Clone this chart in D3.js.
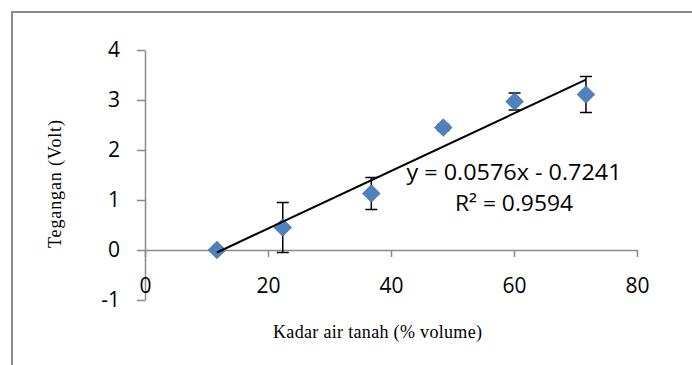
<!DOCTYPE html>
<html>
<head>
<meta charset="utf-8">
<script src="https://cdn.jsdelivr.net/npm/d3@7"></script>
<style>
  body { margin: 0; background: #fff; }
  svg { display: block; }
  .tick text { font-family: "Open Sans", sans-serif; font-size: 21px; fill: #000; }
  .axis-title { font-family: "Liberation Serif", "Times New Roman", serif; font-size: 18px; fill: #000; }
</style>
</head>
<body>
<svg id="chart" width="692" height="365"></svg>
<script>
// --- datos ---
const kadarAir = [11.7, 22.4, 36.8, 48.5, 60.1, 71.7];
const tegangan = [0.0, 0.45, 1.13, 2.45, 2.97, 3.11];
const galat = [0.04, 0.5, 0.32, 0.06, 0.17, 0.36];
const xTicks = [0, 20, 40, 60, 80];
const yTicks = [-1, 0, 1, 2, 3, 4];
const slope = 0.0576, intercept = -0.7241;
const eqText = "y = 0.0576x - 0.7241";
const r2Text = "R² = 0.9594";

const svg = d3.select("#chart");

// marco del gráfico
svg.append("path")
    .attr("d", "M12,366 L12,12 L693,12")
    .attr("fill", "none")
    .attr("stroke", "#8c8c8c")
    .attr("stroke-width", 2);

const x = d3.scaleLinear().domain([0, 80]).range([145, 637]);
const y = d3.scaleLinear().domain([-1, 4]).range([300, 50]);

// eje Y
const yAxis = svg.append("g")
    .attr("transform", `translate(${x(0)},0)`)
    .call(d3.axisLeft(y).tickValues(yTicks).tickFormat(d => String(d))
        .tickSize(8).tickSizeOuter(0).tickPadding(17));

// eje X (en y = 0)
const xAxis = svg.append("g")
    .attr("transform", `translate(0,${y(0)})`)
    .call(d3.axisBottom(x).tickValues(xTicks).tickFormat(d => String(d))
        .tickSize(7).tickSizeOuter(0).tickPadding(21));

[yAxis, xAxis].forEach(g => {
    g.select(".domain").attr("stroke", "#8a8a8a").attr("stroke-width", 1.5);
    g.selectAll(".tick line").attr("stroke", "#8a8a8a").attr("stroke-width", 1.5);
});

// barras de error
const errG = svg.append("g").attr("stroke", "#000").attr("stroke-width", 1.5);
kadarAir.forEach((k, i) => {
    const cx = x(k), top = y(tegangan[i] + galat[i]), bot = y(tegangan[i] - galat[i]);
    errG.append("line").attr("x1", cx).attr("x2", cx).attr("y1", top).attr("y2", bot);
    errG.append("line").attr("x1", cx - 6).attr("x2", cx + 6).attr("y1", top).attr("y2", top);
    errG.append("line").attr("x1", cx - 6).attr("x2", cx + 6).attr("y1", bot).attr("y2", bot);
});

// puntos (rombos)
const diamond = d3.symbol().type(d3.symbolDiamond2).size(200);
svg.append("g").selectAll("path")
    .data(kadarAir)
    .join("path")
    .attr("transform", (d, i) => `translate(${x(d)},${y(tegangan[i])})`)
    .attr("d", diamond)
    .attr("fill", "#4f81bd")
    .attr("stroke", "#3a6290")
    .attr("stroke-width", 0.6);

// línea de tendencia
const x0 = d3.min(kadarAir), x1 = d3.max(kadarAir);
svg.append("line")
    .attr("x1", x(x0)).attr("y1", y(slope * x0 + intercept))
    .attr("x2", x(x1)).attr("y2", y(slope * x1 + intercept))
    .attr("stroke", "#000")
    .attr("stroke-width", 2);

// ecuación
svg.append("text")
    .attr("x", 514).attr("y", 180)
    .attr("text-anchor", "middle")
    .attr("textLength", 215)
    .attr("lengthAdjust", "spacingAndGlyphs")
    .style("font-family", "'Open Sans', sans-serif")
    .style("font-size", "22px")
    .text(eqText);
svg.append("text")
    .attr("x", 514).attr("y", 211)
    .attr("text-anchor", "middle")
    .attr("textLength", 118)
    .attr("lengthAdjust", "spacingAndGlyphs")
    .style("font-family", "'Open Sans', sans-serif")
    .style("font-size", "22px")
    .text(r2Text);

// títulos de ejes
svg.append("text")
    .attr("class", "axis-title")
    .attr("transform", "translate(61,184) rotate(-90)")
    .attr("text-anchor", "middle")
    .attr("textLength", 128)
    .text("Tegangan (Volt)");

svg.append("text")
    .attr("class", "axis-title")
    .attr("x", 377.5).attr("y", 338)
    .attr("text-anchor", "middle")
    .attr("textLength", 209)
    .text("Kadar air tanah (% volume)");
</script>
</body>
</html>
